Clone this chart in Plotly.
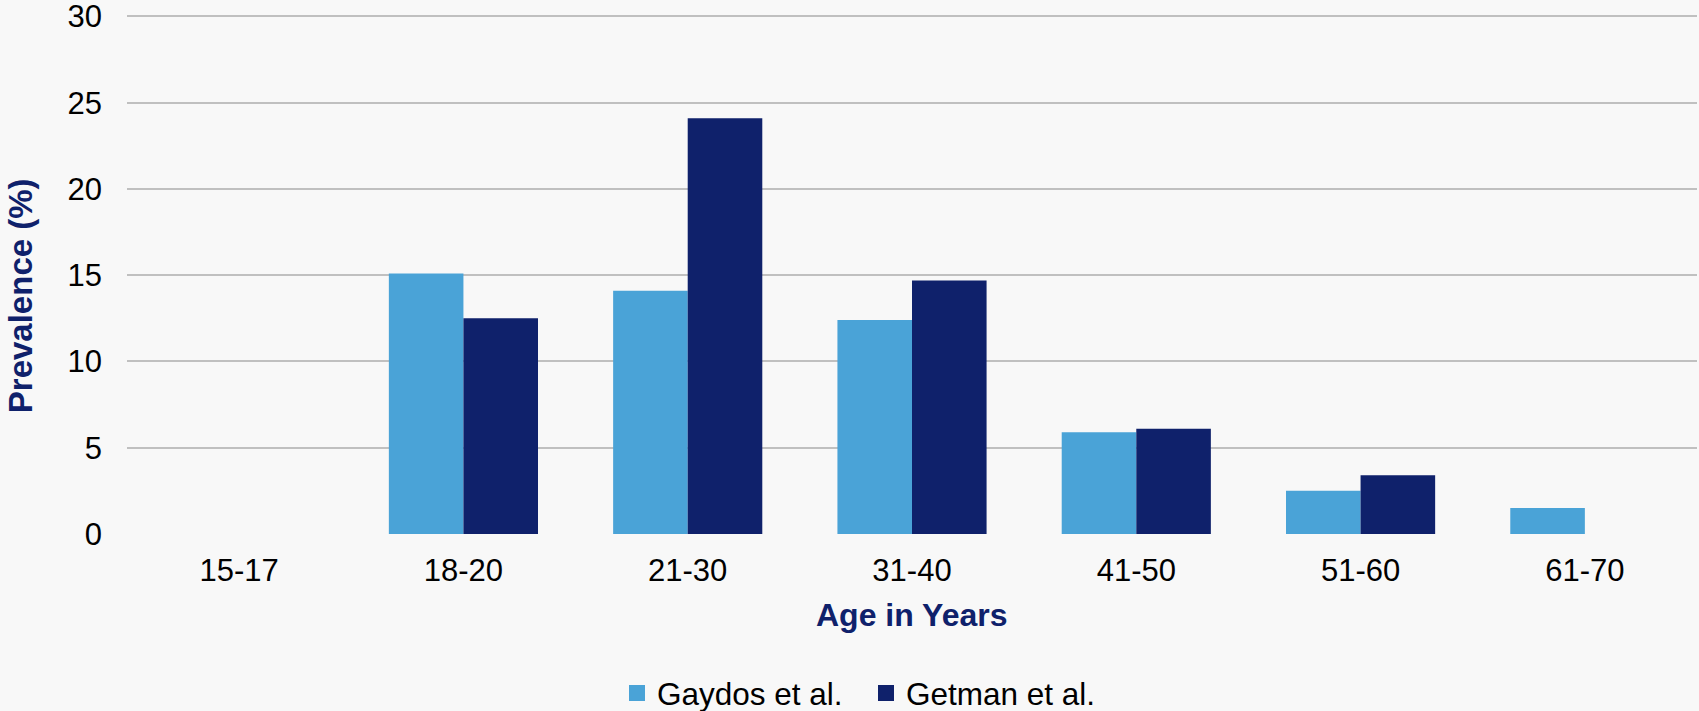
import plotly.graph_objects as go

categories = ["15-17", "18-20", "21-30", "31-40", "41-50", "51-60", "61-70"]
gaydos = [None, 15.1, 14.1, 12.4, 5.9, 2.5, 1.5]
getman = [None, 12.5, 24.1, 14.7, 6.1, 3.4, None]
y_ticks = [0, 5, 10, 15, 20, 25, 30]
series_names = ["Gaydos et al.", "Getman et al."]
series_colors = ["#4aa3d7", "#0f216b"]

FONT = "Liberation Sans, Arial, sans-serif"
W, H = 1699, 711
Y_TOP = 30.2
UNIT = (534 - 16) / 30.0          # pixels per percentage point
L, R, B = 127, 2, 177
T = 16 - (Y_TOP - 30) * UNIT
pw, ph = W - L - R, H - T - B

def px_to_paper_x(px):
    return (px - L) / pw

def px_to_paper_y(py):
    return (H - B - py) / ph

fig = go.Figure()
for name, vals, col in zip(series_names, [gaydos, getman], series_colors):
    fig.add_trace(go.Bar(name=name, x=categories, y=vals, showlegend=False,
                         legendgroup=name,
                         marker=dict(color=col, line=dict(width=0))))
# legend entries with larger square swatches
for name, col in zip(series_names, series_colors):
    fig.add_trace(go.Scatter(name=name, x=[None], y=[None], mode="markers",
                             legendgroup=name, showlegend=True,
                             marker=dict(symbol="square", size=16, color=col)))

fig.update_layout(
    width=W, height=H,
    margin=dict(l=L, r=R, t=T, b=B, autoexpand=False),
    paper_bgcolor="#f8f8f8", plot_bgcolor="#f8f8f8",
    barmode="group", bargap=0.335, bargroupgap=0,
    font=dict(family=FONT, size=31, color="#000000"),
    showlegend=True,
    legend=dict(orientation="h", xref="container", yref="container",
                x=617 / W, xanchor="left",
                y=1 - 693 / H, yanchor="middle",
                entrywidth=204, entrywidthmode="pixels",
                font=dict(family=FONT, size=31.5, color="#000000"),
                bgcolor="rgba(0,0,0,0)", itemclick=False),
    xaxis=dict(showgrid=False, showline=False, zeroline=False, ticks="",
               tickfont=dict(size=31), ticklabelstandoff=15),
    yaxis=dict(range=[0, Y_TOP], tickvals=y_ticks, showgrid=True,
               gridcolor="#c0c0c0", gridwidth=1.5, zeroline=False,
               showline=False, ticks="", tickfont=dict(size=31),
               ticklabelstandoff=24, ticklabeloverflow="allow"),
    annotations=[
        dict(text="<b>Prevalence (%)</b>", xref="paper", yref="paper",
             x=px_to_paper_x(20), y=px_to_paper_y(296), xanchor="center",
             yanchor="middle", textangle=-90, showarrow=False,
             font=dict(family=FONT, size=33, color="#0f216b")),
        dict(text="<b>Age in Years</b>", xref="paper", yref="paper",
             x=px_to_paper_x(912), y=px_to_paper_y(615), xanchor="center",
             yanchor="middle", showarrow=False,
             font=dict(family=FONT, size=32, color="#0f216b")),
    ],
)

fig.write_html("out.html", config={"displayModeBar": False},
               post_script="document.body.style.margin='0';")
